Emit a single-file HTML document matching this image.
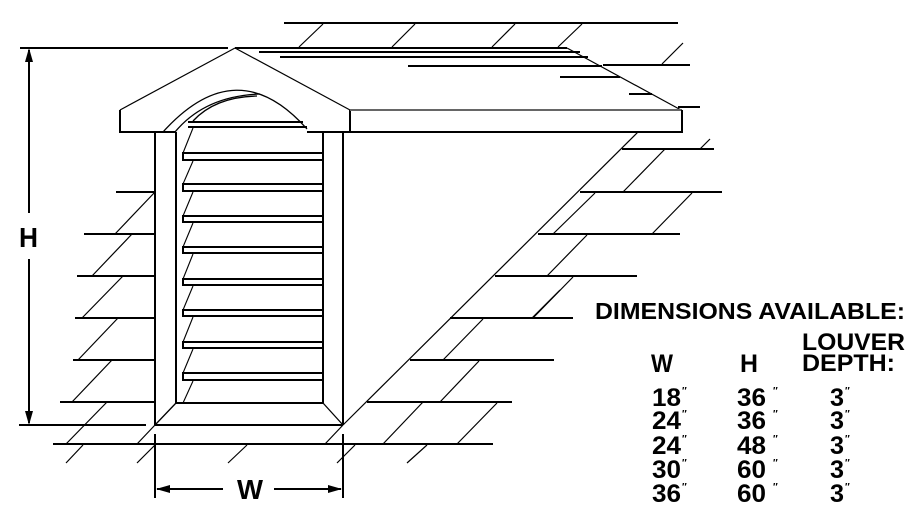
<!DOCTYPE html>
<html><head><meta charset="utf-8"><style>
html,body{margin:0;padding:0;background:#fff;}
svg{display:block;}
text{font-family:"Liberation Sans",sans-serif;font-weight:bold;fill:#000;}
</style></head><body>
<svg width="924" height="528" viewBox="0 0 924 528" xmlns="http://www.w3.org/2000/svg">
<g stroke="#000" fill="none" stroke-width="2">
<line x1="284" y1="23" x2="678" y2="23"/>
<line x1="20" y1="48" x2="228" y2="48"/>
<line x1="235" y1="48" x2="567" y2="48"/>
<line x1="259" y1="52" x2="580" y2="52"/>
<line x1="280" y1="57" x2="588" y2="57"/>
<line x1="408" y1="66" x2="602" y2="66"/>
<line x1="603" y1="65" x2="690" y2="65"/>
<line x1="560" y1="77" x2="620" y2="77"/>
<line x1="629" y1="94" x2="652" y2="94"/>
<line x1="678" y1="107" x2="700" y2="107"/>
</g>
<g stroke="#000" fill="none" stroke-width="1.2">
<line x1="299" y1="47" x2="323" y2="24"/>
<line x1="392" y1="47" x2="415" y2="24"/>
<line x1="492" y1="47" x2="515" y2="24"/>
<line x1="558" y1="47" x2="582" y2="24"/>
<line x1="662" y1="64" x2="683" y2="43"/>
<line x1="567" y1="48" x2="681" y2="110"/>
<line x1="235" y1="48" x2="120" y2="110"/>
<line x1="235" y1="48" x2="350" y2="110"/>
</g>
<g stroke="#000" fill="none" stroke-width="2">
<polyline points="120,110 120,132 163,132"/>
<line x1="155" y1="132" x2="176" y2="132"/>
<line x1="307" y1="132" x2="350" y2="132"/>
<line x1="350" y1="110" x2="350" y2="132"/>
<line x1="350" y1="110" x2="682" y2="110" stroke="#666"/>
<polyline points="350,132 682,132 682,110"/>
<line x1="155" y1="132" x2="155" y2="425"/>
<line x1="176" y1="132" x2="176" y2="403"/>
<line x1="323" y1="132" x2="323" y2="403"/>
<line x1="343" y1="132" x2="343" y2="425"/>
<line x1="176" y1="403" x2="323" y2="403"/>
<line x1="155" y1="425" x2="343" y2="425"/>
</g>
<g stroke="#000" fill="none" stroke-width="1.3">
<line x1="155" y1="425" x2="176" y2="403"/>
<line x1="343" y1="425" x2="323" y2="403"/>
<path d="M163,132 Q237,50 307,129"/>
<path d="M175,132 Q205,96 260,94"/>
<path d="M193,121 Q215,97 257,96"/>
</g>
<g stroke="#000" fill="none" stroke-width="2">
<line x1="188" y1="122" x2="303" y2="122"/><line x1="188" y1="127" x2="307" y2="127"/>
<rect x="183" y="153" width="140" height="7"/>
<rect x="183" y="184" width="140" height="7"/>
<rect x="183" y="216" width="140" height="6"/>
<rect x="183" y="247" width="140" height="6"/>
<rect x="183" y="279" width="140" height="6"/>
<rect x="183" y="310" width="140" height="6"/>
<rect x="183" y="342" width="140" height="6"/>
<rect x="183" y="373" width="140" height="7"/>
</g>
<g stroke="#000" fill="none" stroke-width="1.1">
<line x1="193" y1="128" x2="183" y2="153"/>
<line x1="193" y1="161" x2="183" y2="184"/>
<line x1="193" y1="192" x2="183" y2="216"/>
<line x1="193" y1="223" x2="183" y2="247"/>
<line x1="193" y1="254" x2="183" y2="279"/>
<line x1="193" y1="286" x2="183" y2="310"/>
<line x1="193" y1="317" x2="183" y2="342"/>
<line x1="193" y1="349" x2="183" y2="373"/>
<line x1="193" y1="381" x2="183" y2="403"/>
</g>
<g stroke="#000" fill="none" stroke-width="2">
<line x1="116" y1="192" x2="155" y2="192"/>
<line x1="84" y1="234" x2="155" y2="234"/>
<line x1="77" y1="276" x2="155" y2="276"/>
<line x1="75" y1="318" x2="155" y2="318"/>
<line x1="73" y1="360" x2="155" y2="360"/>
<line x1="60" y1="402" x2="155" y2="402"/>
<line x1="19" y1="425" x2="146" y2="425"/>
<line x1="53" y1="444" x2="493" y2="444"/>
<line x1="622" y1="149" x2="714" y2="149"/>
<line x1="580" y1="192" x2="722" y2="192"/>
<line x1="538" y1="234" x2="680" y2="234"/>
<line x1="495" y1="276" x2="637" y2="276"/>
<line x1="450" y1="318" x2="573" y2="318"/>
<line x1="410" y1="360" x2="554" y2="360"/>
<line x1="367" y1="402" x2="512" y2="402"/>
</g>
<g stroke="#000" fill="none" stroke-width="1.2">
<line x1="155" y1="192" x2="115" y2="234"/>
<line x1="132" y1="234" x2="92" y2="276"/>
<line x1="123" y1="276" x2="82" y2="318"/>
<line x1="118" y1="318" x2="78" y2="360"/>
<line x1="112" y1="360" x2="72" y2="402"/>
<line x1="107" y1="402" x2="66" y2="444"/>
<line x1="83" y1="445" x2="66" y2="463"/>
<line x1="155" y1="425" x2="137" y2="444"/>
<line x1="155" y1="445" x2="137" y2="463"/>
<line x1="247" y1="445" x2="228" y2="463"/>
<line x1="343" y1="425" x2="325" y2="444"/>
<line x1="355" y1="445" x2="337" y2="463"/>
<line x1="423" y1="402" x2="383" y2="444"/>
<line x1="427" y1="445" x2="407" y2="463"/>
<line x1="497" y1="403" x2="457" y2="444"/>
<line x1="343" y1="425" x2="638" y2="132"/>
<line x1="710" y1="139" x2="700" y2="149"/>
<line x1="665" y1="149" x2="623" y2="192"/>
<line x1="692" y1="193" x2="652" y2="234"/>
<line x1="595" y1="193" x2="553" y2="234"/>
<line x1="587" y1="235" x2="547" y2="276"/>
<line x1="573" y1="277" x2="533" y2="318"/>
<line x1="560" y1="290" x2="532" y2="318"/>
<line x1="483" y1="319" x2="443" y2="360"/>
<line x1="479" y1="361" x2="440" y2="402"/>
</g>
<g stroke="#000" fill="none" stroke-width="2">
<line x1="29" y1="50" x2="29" y2="213"/>
<line x1="29" y1="259" x2="29" y2="423"/>
<line x1="155" y1="434" x2="155" y2="498"/>
<line x1="343" y1="434" x2="343" y2="498"/>
<line x1="157" y1="489" x2="223" y2="489"/>
<line x1="274" y1="489" x2="341" y2="489"/>
</g>
<g fill="#000">
<polygon points="29,48 25,62 33,62"/>
<polygon points="29,425 25,411 33,411"/>
<polygon points="156,489 170,485 170,493"/>
<polygon points="342,489 328,485 328,493"/>
</g>
<text x="19" y="247" font-size="28" textLength="19" lengthAdjust="spacingAndGlyphs">H</text>
<text x="237" y="499" font-size="28" textLength="26" lengthAdjust="spacingAndGlyphs">W</text>
<text x="595" y="319" font-size="23" textLength="310" lengthAdjust="spacingAndGlyphs">DIMENSIONS AVAILABLE:</text>
<text x="802" y="350" font-size="24" textLength="103" lengthAdjust="spacingAndGlyphs">LOUVER</text>
<text x="802" y="371" font-size="24" textLength="93" lengthAdjust="spacingAndGlyphs">DEPTH:</text>
<text x="651" y="372" font-size="25" textLength="22" lengthAdjust="spacingAndGlyphs">W</text>
<text x="740" y="372" font-size="25" textLength="18" lengthAdjust="spacingAndGlyphs">H</text>
<g font-size="25">
<text x="652" y="406" textLength="29" lengthAdjust="spacingAndGlyphs">18</text>
<text x="652" y="429" textLength="29" lengthAdjust="spacingAndGlyphs">24</text>
<text x="652" y="454" textLength="29" lengthAdjust="spacingAndGlyphs">24</text>
<text x="652" y="478" textLength="29" lengthAdjust="spacingAndGlyphs">30</text>
<text x="652" y="502" textLength="29" lengthAdjust="spacingAndGlyphs">36</text>
<text x="737" y="406" textLength="29" lengthAdjust="spacingAndGlyphs">36</text>
<text x="737" y="429" textLength="29" lengthAdjust="spacingAndGlyphs">36</text>
<text x="737" y="454" textLength="29" lengthAdjust="spacingAndGlyphs">48</text>
<text x="737" y="478" textLength="29" lengthAdjust="spacingAndGlyphs">60</text>
<text x="737" y="502" textLength="29" lengthAdjust="spacingAndGlyphs">60</text>
<text x="830" y="406" textLength="14" lengthAdjust="spacingAndGlyphs">3</text>
<text x="830" y="429" textLength="14" lengthAdjust="spacingAndGlyphs">3</text>
<text x="830" y="454" textLength="14" lengthAdjust="spacingAndGlyphs">3</text>
<text x="830" y="478" textLength="14" lengthAdjust="spacingAndGlyphs">3</text>
<text x="830" y="502" textLength="14" lengthAdjust="spacingAndGlyphs">3</text>
</g>
<g font-size="10" style="font-weight:normal">
<text x="682" y="394">″</text><text x="682" y="417">″</text><text x="682" y="442">″</text><text x="682" y="466">″</text><text x="682" y="490">″</text>
<text x="773" y="394">″</text><text x="773" y="417">″</text><text x="773" y="442">″</text><text x="773" y="466">″</text><text x="773" y="490">″</text>
<text x="845" y="394">″</text><text x="845" y="417">″</text><text x="845" y="442">″</text><text x="845" y="466">″</text><text x="845" y="490">″</text>
</g>
</svg>
</body></html>
